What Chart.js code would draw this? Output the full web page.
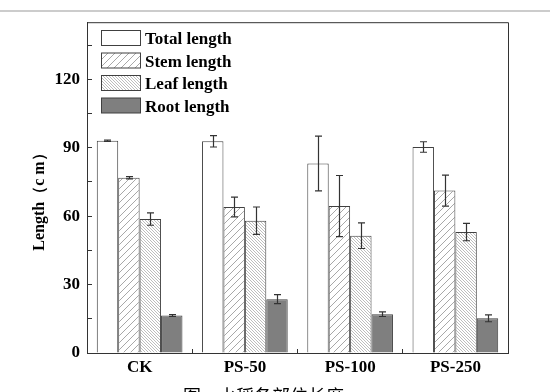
<!DOCTYPE html>
<html>
<head>
<meta charset="utf-8">
<script src="https://cdn.jsdelivr.net/npm/chart.js@4.4.1/dist/chart.umd.min.js"></script>
<style>
    html, body { margin: 0; padding: 0; background: #fff; }
    #wrap { position: relative; width: 550px; height: 392px; }
</style>
</head>
<body>
<div id="wrap"><canvas id="lengthChart" width="550" height="392"></canvas></div>
<script>
// Data
const categories = ['CK', 'PS-50', 'PS-100', 'PS-250'];
const seriesNames = ['Total length', 'Stem length', 'Leaf length', 'Root length'];
const totalLength = [93.0, 92.8, 83.1, 90.3];
const totalErr = [0.3, 2.5, 12.0, 2.3];
const stemLength = [76.8, 64.0, 64.4, 71.2];
const stemErr = [0.5, 4.3, 13.4, 6.8];
const leafLength = [58.7, 58.0, 51.4, 53.0];
const leafErr = [2.7, 6.0, 5.6, 3.8];
const rootLength = [16.4, 23.6, 17.0, 15.2];
const rootErr = [0.4, 2.0, 1.0, 1.5];
const yTickStep = 15;
const yMax = 145;

const serif = '"Liberation Serif", "Times New Roman", serif';
const axisColor = '#333';

const canvas = document.getElementById('lengthChart');
const mainCtx = canvas.getContext('2d');

// Hatch patterns for stem (/) and leaf (\) bars
function makeHatch(size, dir, color) {
    const c = document.createElement('canvas');
    c.width = size;
    c.height = size;
    const g = c.getContext('2d');
    g.fillStyle = '#fff';
    g.fillRect(0, 0, size, size);
    g.strokeStyle = color;
    g.lineWidth = 1;
    g.beginPath();
    if (dir === '/') {
        g.moveTo(-1, size + 1); g.lineTo(size + 1, -1);
        g.moveTo(-1, 1); g.lineTo(1, -1);
        g.moveTo(size - 1, size + 1); g.lineTo(size + 1, size - 1);
    } else {
        g.moveTo(-1, -1); g.lineTo(size + 1, size + 1);
        g.moveTo(size - 1, -1); g.lineTo(size + 1, 1);
        g.moveTo(-1, size - 1); g.lineTo(1, size + 1);
    }
    g.stroke();
    return mainCtx.createPattern(c, 'repeat');
}

const stemFill = makeHatch(7, '/', '#a8a8a8');
const leafFill = makeHatch(3, '\\', '#bdbdbd');

const fills = ['#ffffff', stemFill, leafFill, '#7f7f7f'];
const values = [totalLength, stemLength, leafLength, rootLength];
const errors = [totalErr, stemErr, leafErr, rootErr];

// Error bars on top of each bar
const errorBars = {
    id: 'errorBars',
    afterDatasetsDraw(chart) {
        const ctx = chart.ctx;
        const y = chart.scales.y;
        ctx.save();
        ctx.strokeStyle = axisColor;
        ctx.lineWidth = 1.2;
        chart.data.datasets.forEach((ds, i) => {
            chart.getDatasetMeta(i).data.forEach((bar, j) => {
                const hi = y.getPixelForValue(ds.data[j] + ds.errors[j]);
                const lo = y.getPixelForValue(ds.data[j] - ds.errors[j]);
                const x = Math.round(bar.x) + 0.5;
                ctx.beginPath();
                ctx.moveTo(x, hi); ctx.lineTo(x, lo);
                ctx.moveTo(x - 3.5, hi); ctx.lineTo(x + 3.5, hi);
                ctx.moveTo(x - 3.5, lo); ctx.lineTo(x + 3.5, lo);
                ctx.stroke();
            });
        });
        ctx.restore();
    }
};

// Frame, legend, axis title and caption
const decorations = {
    id: 'decorations',
    beforeDraw(chart) {
        const ctx = chart.ctx;
        ctx.save();
        ctx.fillStyle = '#cccccc';
        ctx.fillRect(0, 10, chart.width, 2);
        ctx.restore();
    },
    afterDraw(chart) {
        const ctx = chart.ctx;
        const a = chart.chartArea;
        ctx.save();

        // top and right sides of the frame
        ctx.strokeStyle = axisColor;
        ctx.lineWidth = 1;
        ctx.beginPath();
        ctx.moveTo(a.left, a.top + 0.5);
        ctx.lineTo(a.right + 0.5, a.top + 0.5);
        ctx.lineTo(a.right + 0.5, a.bottom);
        ctx.stroke();

        // legend
        ctx.font = 'bold 17px ' + serif;
        ctx.textBaseline = 'alphabetic';
        ctx.textAlign = 'left';
        chart.data.datasets.forEach((ds, i) => {
            const top = 30.5 + i * 22.5;
            ctx.fillStyle = ds.backgroundColor;
            ctx.fillRect(101.5, top, 39, 15);
            ctx.strokeStyle = '#404040';
            ctx.strokeRect(101.5, top, 39, 15);
            ctx.fillStyle = '#000';
            ctx.fillText(ds.label, 145, top + 13.5);
        });

        // y axis title
        ctx.translate(44, 198);
        ctx.rotate(-Math.PI / 2);
        ctx.font = 'bold 16px ' + serif;
        ctx.textAlign = 'center';
        ctx.fillText('Length（c m）', 0, 0);
        ctx.setTransform(1, 0, 0, 1, 0, 0);

        // caption (cut off at the bottom of the picture)
        ctx.font = '18px "Noto Sans CJK SC", sans-serif';
        ctx.textAlign = 'left';
        ctx.textBaseline = 'top';
        ctx.fillText('图', 183, 387);
        ctx.fillText('水稻各部位长度', 218, 387);
        ctx.restore();
    }
};

new Chart(mainCtx, {
    type: 'bar',
    data: {
        labels: categories,
        datasets: seriesNames.map((name, i) => ({
            label: name,
            data: values[i],
            errors: errors[i],
            backgroundColor: fills[i],
            borderColor: '#404040',
            borderWidth: 1,
            categoryPercentage: 0.814,
            barPercentage: 1.0
        }))
    },
    options: {
        responsive: false,
        animation: false,
        layout: { padding: { top: 19, right: 42, bottom: 0, left: 0 } },
        plugins: {
            legend: { display: false },
            tooltip: { enabled: false }
        },
        scales: {
            x: {
                grid: { drawOnChartArea: false, offset: true, tickLength: -4, color: axisColor },
                border: { color: axisColor, width: 1 },
                ticks: {
                    color: '#000',
                    padding: 8,
                    font: { family: serif, size: 17, weight: 'bold' }
                },
                afterFit(s) { s.height = 39; }
            },
            y: {
                min: 0,
                max: yMax,
                grid: { drawOnChartArea: false, tickLength: -5, color: axisColor },
                border: { color: axisColor, width: 1 },
                ticks: {
                    stepSize: yTickStep,
                    color: '#000',
                    padding: 12,
                    font: { family: serif, size: 17, weight: 'bold' },
                    callback: v => (v % 30 === 0 ? v : '')
                },
                afterBuildTicks(s) {
                    s.ticks = s.ticks.filter(t => t.value % yTickStep === 0);
                },
                afterFit(s) { s.width = 87; }
            }
        }
    },
    plugins: [errorBars, decorations]
});
</script>
</body>
</html>
